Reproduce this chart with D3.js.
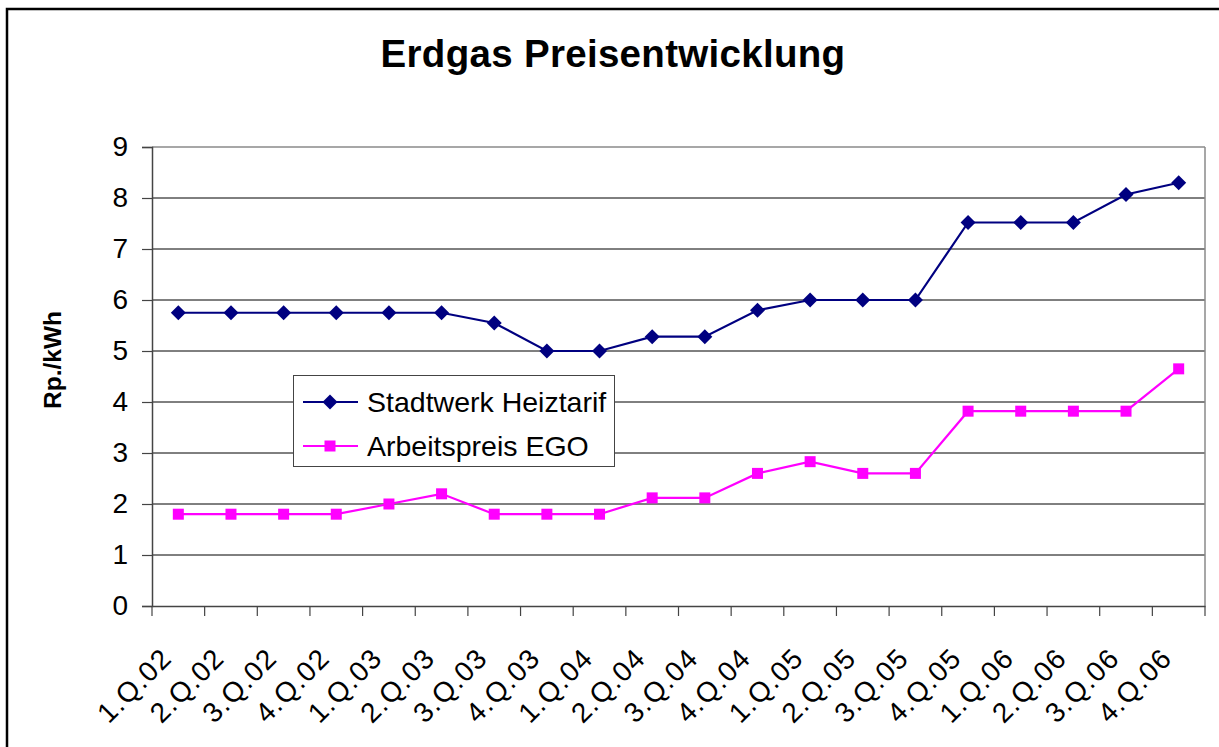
<!DOCTYPE html>
<html>
<head>
<meta charset="utf-8">
<script src="https://cdn.jsdelivr.net/npm/d3@7"></script>
<style>
  html, body { margin: 0; padding: 0; background: #fff; }
  svg { display: block; font-family: "Liberation Sans", Arial, sans-serif; }
</style>
</head>
<body>
<svg id="chart" width="1219" height="747"></svg>
<script>
const title = "Erdgas Preisentwicklung";
const yAxisTitle = "Rp./kWh";
const categories = ["1.Q.02","2.Q.02","3.Q.02","4.Q.02","1.Q.03","2.Q.03","3.Q.03","4.Q.03",
  "1.Q.04","2.Q.04","3.Q.04","4.Q.04","1.Q.05","2.Q.05","3.Q.05","4.Q.05",
  "1.Q.06","2.Q.06","3.Q.06","4.Q.06"];
const stadtwerkName = "Stadtwerk Heiztarif";
const stadtwerk = [5.75,5.75,5.75,5.75,5.75,5.75,5.55,5.0,5.0,5.28,5.28,5.8,6.0,6.0,6.0,7.52,7.52,7.52,8.07,8.3];
const egoName = "Arbeitspreis EGO";
const ego = [1.8,1.8,1.8,1.8,2.0,2.2,1.8,1.8,1.8,2.12,2.12,2.6,2.83,2.6,2.6,3.82,3.82,3.82,3.82,4.65];
const yTicks = [0,1,2,3,4,5,6,7,8,9];

(function () {
const svg = d3.select("#chart");
const pLeft = 152, pRight = 1205, pTop = 147, pBottom = 606;

// outer frame
svg.append("rect").attr("x", 7).attr("y", 9).attr("width", 1240).attr("height", 760)
  .attr("fill", "#fff").attr("stroke", "#000").attr("stroke-width", 2.5);

const x = d3.scaleBand().domain(categories).range([pLeft, pRight]).padding(0);
const y = d3.scaleLinear().domain([0, 9]).range([pBottom, pTop]);

// gridlines
svg.append("g").selectAll("line").data(yTicks.filter(d => d > 0 && d < 9)).join("line")
  .attr("x1", pLeft).attr("x2", pRight).attr("y1", d => y(d)).attr("y2", d => y(d))
  .attr("stroke", "#000").attr("stroke-width", 1);

// plot border top & right (gray)
svg.append("line").attr("x1", pLeft).attr("x2", pRight).attr("y1", y(9)).attr("y2", y(9))
  .attr("stroke", "#8a8a8a").attr("stroke-width", 1.5);
svg.append("line").attr("x1", pRight).attr("x2", pRight).attr("y1", y(9)).attr("y2", y(0))
  .attr("stroke", "#8a8a8a").attr("stroke-width", 1.5);

// y axis
const yAxis = d3.axisLeft(y).tickValues(yTicks).tickSize(10).tickPadding(14).tickFormat(d3.format("d"));
const gy = svg.append("g").attr("transform", `translate(${pLeft},0)`).call(yAxis);
gy.select(".domain").attr("stroke", "#444").attr("stroke-width", 1.5);
gy.selectAll(".tick line").attr("stroke", "#444").attr("stroke-width", 1.2);
gy.selectAll(".tick text").attr("font-size", 28).attr("fill", "#000")
  .attr("font-family", "Liberation Sans, Arial, sans-serif");

// x axis (ticks between categories)
const xAxis = d3.axisBottom(x).tickSize(0).tickFormat("");
const gx = svg.append("g").attr("transform", `translate(0,${pBottom})`).call(xAxis);
gx.select(".domain").attr("stroke", "#444").attr("stroke-width", 1.5);
const boundaries = categories.map(c => x(c)).concat([x(categories[categories.length-1]) + x.bandwidth()]);
gx.append("g").selectAll("line").data(boundaries).join("line")
  .attr("x1", d => d).attr("x2", d => d).attr("y1", 0).attr("y2", 10)
  .attr("stroke", "#444").attr("stroke-width", 1.2);

// x labels rotated
svg.append("g").selectAll("text").data(categories).join("text")
  .attr("transform", d => `translate(${x(d) + x.bandwidth()/2 - 5},660) rotate(-45)`)
  .attr("text-anchor", "end").attr("font-size", 28).attr("letter-spacing", 1.2).attr("fill", "#000")
  .text(d => d);

// title
svg.append("text").attr("x", 613).attr("y", 67).attr("text-anchor", "middle")
  .attr("font-size", 38.5).attr("font-weight", "bold").attr("letter-spacing", 0.3).text(title);

// y axis title
svg.append("text").attr("transform", "translate(61,360) rotate(-90)")
  .attr("text-anchor", "middle").attr("font-size", 24.5).attr("font-weight", "bold").text(yAxisTitle);

const cx = d => x(d) + x.bandwidth()/2;
const line = d3.line().x(d => d[0]).y(d => d[1]);

function drawSeries(vals, color, markerFn) {
  const pts = vals.map((v, i) => [cx(categories[i]), y(v)]);
  svg.append("path").attr("d", line(pts)).attr("fill", "none").attr("stroke", color).attr("stroke-width", 2.2);
  const g = svg.append("g");
  pts.forEach(p => markerFn(g, p[0], p[1]));
}
const diamond = color => (g, px, py) => g.append("path")
  .attr("d", `M${px},${py-7.5}L${px+7.5},${py}L${px},${py+7.5}L${px-7.5},${py}Z`).attr("fill", color);
const square = color => (g, px, py) => g.append("rect")
  .attr("x", px-5.5).attr("y", py-5.5).attr("width", 11).attr("height", 11).attr("fill", color);

drawSeries(stadtwerk, "#000080", diamond("#000080"));
drawSeries(ego, "#ff00ff", square("#ff00ff"));

// legend
const lg = svg.append("g");
lg.append("rect").attr("x", 293.5).attr("y", 375.5).attr("width", 321).attr("height", 91)
  .attr("fill", "#fff").attr("stroke", "#444").attr("stroke-width", 1);
const legendItems = [[stadtwerkName, "#000080", diamond("#000080")], [egoName, "#ff00ff", square("#ff00ff")]];
legendItems.forEach((it, i) => {
  const ly = 402 + i * 44;
  lg.append("line").attr("x1", 303).attr("x2", 358).attr("y1", ly).attr("y2", ly)
    .attr("stroke", it[1]).attr("stroke-width", 2.2);
  it[2](lg, 330, ly);
  lg.append("text").attr("x", 367).attr("y", ly + 10).attr("font-size", 28.5).attr("fill", "#000").text(it[0]);
});
})();
</script>
</body>
</html>
